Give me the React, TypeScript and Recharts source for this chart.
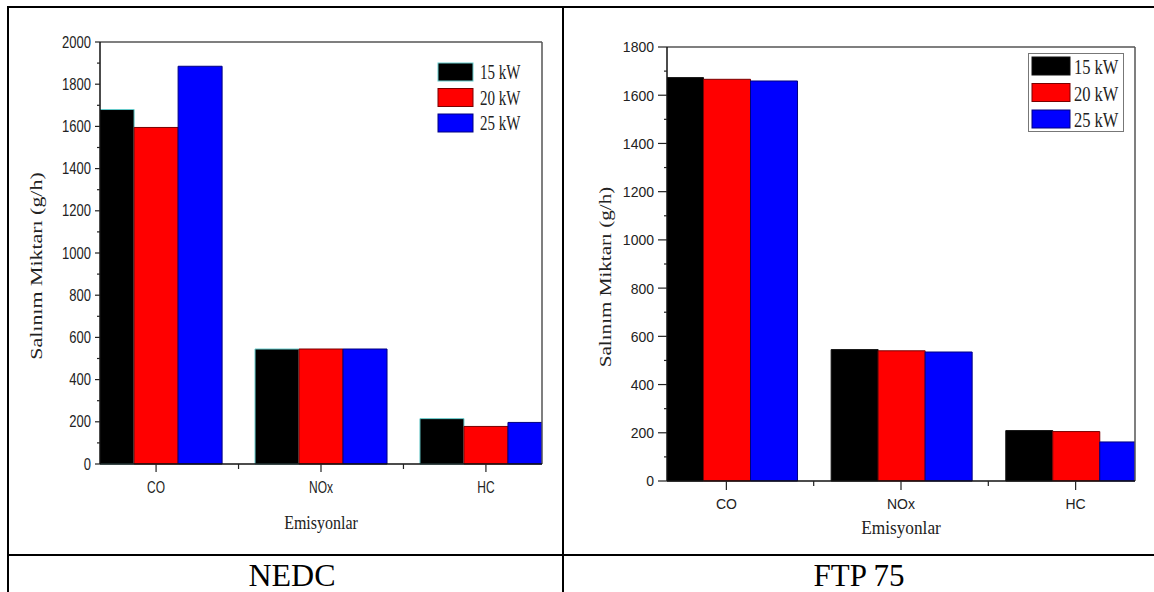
import React from "react";
import { BarChart, Bar, XAxis, YAxis, Legend, ReferenceLine } from "recharts";

const SANS = '"Liberation Sans", Arial, sans-serif';
const SERIF = '"Liberation Serif", "Times New Roman", serif';

// categories on the x axis and where they sit on the numeric axis
const categories = ["CO", "NOx", "HC"];
const categoryPositions = [1, 2, 3];
const xTicks = [1, 1.5, 2, 2.5, 3];
const xDomain: [number, number] = [0.66, 3.34];

const seriesNames = ["15 kW", "20 kW", "25 kW"];

// NEDC (g/h)
const nedc15 = [1680, 545, 215];
const nedc20 = [1595, 545, 178];
const nedc25 = [1885, 545, 197];

// FTP 75 (g/h)
const ftp15 = [1673, 545, 209];
const ftp20 = [1666, 540, 205];
const ftp25 = [1659, 535, 162];

const nedcYTicks = [0, 100, 200, 300, 400, 500, 600, 700, 800, 900, 1000, 1100, 1200, 1300, 1400, 1500, 1600, 1700, 1800, 1900, 2000];
const ftpYTicks = [0, 100, 200, 300, 400, 500, 600, 700, 800, 900, 1000, 1100, 1200, 1300, 1400, 1500, 1600, 1700, 1800];

const yTitle = "Salınım Miktarı (g/h)";
const xTitle = "Emisyonlar";

const buildRows = (a: number[], b: number[], c: number[]) =>
  categoryPositions.map((pos, i) => ({ pos, s15: a[i], s20: b[i], s25: c[i] }));

// the source figure is stretched, so texts get a scale
function SText({ x, y, size, family, sx = 1, sy = 1, rotate = 0, anchor = "middle", fill = "#111", children }: any) {
  return (
    <text
      transform={`translate(${x},${y}) rotate(${rotate}) scale(${sx},${sy})`}
      fontSize={size}
      fontFamily={family}
      textAnchor={anchor}
      fill={fill}
    >
      {children}
    </text>
  );
}

// axis title: recharts hands the label its own x/y, so keep ours under other names
function AxisTitle({ px, py, size, sx = 1, sy = 1, rotate = 0, text }: any) {
  return (
    <SText x={px} y={py} size={size} family={SERIF} sx={sx} sy={sy} rotate={rotate} fill="#222">
      {text}
    </SText>
  );
}

type Look = {
  left: number;
  width: number;
  height: number;
  margin: { top: number; right: number; bottom: number; left: number };
  yMax: number;
  yTicks: number[];
  yTick: { major: number; minor: number; gap: number; size: number; sy: number; shift: number };
  xTick: { major: number; minor: number; base: number; size: number; sy: number };
  yLabel: { x: number; y: number; size: number; sx: number };
  xLabel: { x: number; y: number; size: number; sy: number };
  legend: {
    left: number; top: number; w: number; h: number; box: boolean;
    swX: number; swY: number; row: number; swW: number; swH: number;
    textX: number; base: number; size: number; sy: number;
  };
  strokes: string[];
};

const fills = ["#000000", "#ff0000", "#0000ff"];

function Panel({ look, rows }: { look: Look; rows: any[] }) {
  const yTick = (props: any) => {
    const { x, y, payload } = props;
    const v = payload.value;
    const major = v % 200 === 0;
    return (
      <g>
        <line x1={x} x2={x - (major ? look.yTick.major : look.yTick.minor)} y1={y} y2={y} stroke="#222" strokeWidth={1.2} />
        {major && (
          <SText x={x - look.yTick.gap} y={y + look.yTick.shift} size={look.yTick.size} family={SANS} sy={look.yTick.sy} anchor="end" fill="#222">
            {v}
          </SText>
        )}
      </g>
    );
  };

  const xTick = (props: any) => {
    const { x, y, payload } = props;
    const v = payload.value;
    const idx = categoryPositions.indexOf(v);
    const major = idx >= 0;
    return (
      <g>
        <line x1={x} x2={x} y1={y} y2={y + (major ? look.xTick.major : look.xTick.minor)} stroke="#222" strokeWidth={1.2} />
        {major && (
          <SText x={x} y={y + look.xTick.base} size={look.xTick.size} family={SANS} sy={look.xTick.sy} fill="#222">
            {categories[idx]}
          </SText>
        )}
      </g>
    );
  };

  const lg = look.legend;
  const renderLegend = (props: any) => (
    <svg width={lg.w} height={lg.h} style={{ display: "block", overflow: "visible" }}>
      {lg.box && <rect x={0.5} y={0.5} width={lg.w - 1} height={lg.h - 1} fill="#fff" stroke="#777" />}
      {(props.payload || []).map((p: any, i: number) => (
        <g key={p.value}>
          <rect x={lg.swX} y={lg.swY + i * lg.row} width={lg.swW} height={lg.swH} fill={p.color} stroke={look.strokes[i]} strokeWidth={1} />
          <SText x={lg.textX} y={lg.swY + i * lg.row + lg.base} size={lg.size} family={SERIF} sy={lg.sy} anchor="start" fill="#222">
            {p.value}
          </SText>
        </g>
      ))}
    </svg>
  );

  return (
    <div style={{ position: "absolute", left: look.left, top: 0 }}>
      <BarChart width={look.width} height={look.height} data={rows} margin={look.margin} barGap={0} barCategoryGap="10%">
        <XAxis
          dataKey="pos"
          type="number"
          domain={xDomain}
          allowDataOverflow
          ticks={xTicks}
          interval={0}
          height={30}
          tickSize={0}
          tickMargin={0}
          tickLine={false}
          axisLine={{ stroke: "#111", strokeWidth: 1.5 }}
          tick={xTick}
          label={<AxisTitle px={look.xLabel.x} py={look.xLabel.y} size={look.xLabel.size} sy={look.xLabel.sy} text={xTitle} />}
        />
        <YAxis
          type="number"
          domain={[0, look.yMax]}
          ticks={look.yTicks}
          interval={0}
          width={60}
          tickSize={0}
          tickMargin={0}
          tickLine={false}
          axisLine={{ stroke: "#111", strokeWidth: 1.5 }}
          tick={yTick}
          label={<AxisTitle px={look.yLabel.x} py={look.yLabel.y} size={look.yLabel.size} sx={look.yLabel.sx} rotate={-90} text={yTitle} />}
        />
        <ReferenceLine y={look.yMax} stroke="#555" strokeWidth={1.5} ifOverflow="visible" />
        <ReferenceLine x={xDomain[1]} stroke="#555" strokeWidth={1.5} ifOverflow="visible" />
        <Bar dataKey="s15" name={seriesNames[0]} fill={fills[0]} stroke={look.strokes[0]} strokeWidth={1} isAnimationActive={false} />
        <Bar dataKey="s20" name={seriesNames[1]} fill={fills[1]} stroke={look.strokes[1]} strokeWidth={1} isAnimationActive={false} />
        <Bar dataKey="s25" name={seriesNames[2]} fill={fills[2]} stroke={look.strokes[2]} strokeWidth={1} isAnimationActive={false} />
        <Legend
          layout="vertical"
          align="center"
          verticalAlign="middle"
          wrapperStyle={{ left: lg.left, top: lg.top, width: lg.w, height: lg.h }}
          content={renderLegend}
        />
      </BarChart>
    </div>
  );
}

const nedcLook: Look = {
  left: 0,
  width: 562,
  height: 554,
  margin: { top: 42, right: 20, bottom: 60, left: 40 },
  yMax: 2000,
  yTicks: nedcYTicks,
  yTick: { major: 5, minor: 3, gap: 9, size: 13, sy: 1.2, shift: 5.6 },
  xTick: { major: 8, minor: 5, base: 29, size: 12, sy: 1.35 },
  yLabel: { x: 41.5, y: 266, size: 16, sx: 1.37 },
  xLabel: { x: 321, y: 529, size: 16, sy: 1.19 },
  legend: { left: 438, top: 63, w: 104, h: 72, box: false, swX: 0, swY: 0, row: 25.5, swW: 35, swH: 18, textX: 42, base: 16, size: 15, sy: 1.36 },
  strokes: ["#66cccc", "#7a0000", "#000080"],
};

const ftpLook: Look = {
  left: 562,
  width: 592,
  height: 554,
  margin: { top: 47, right: 19, bottom: 43, left: 45 },
  yMax: 1800,
  yTicks: ftpYTicks,
  yTick: { major: 9, minor: 3, gap: 13, size: 14, sy: 1.07, shift: 5.4 },
  xTick: { major: 9, minor: 5, base: 28, size: 14, sy: 1.1 },
  yLabel: { x: 49, y: 277, size: 16, sx: 1.32 },
  xLabel: { x: 339, y: 534, size: 17.3, sy: 1.07 },
  legend: { left: 466, top: 53, w: 96, h: 79, box: true, swX: 4, swY: 4, row: 26.5, swW: 38, swH: 18, textX: 46, base: 17, size: 16.5, sy: 1.33 },
  strokes: ["#111111", "#7a0000", "#000080"],
};

export default function App() {
  return (
    <div style={{ position: "absolute", left: 0, top: 0, width: 1154, height: 592, overflow: "hidden", background: "#fff" }}>
      <svg width={1154} height={592} style={{ position: "absolute", left: 0, top: 0 }}>
        <line x1={7} x2={1154} y1={7} y2={7} stroke="#000" strokeWidth={2} />
        <line x1={8} x2={8} y1={6} y2={592} stroke="#000" strokeWidth={2} />
        <line x1={563} x2={563} y1={6} y2={592} stroke="#000" strokeWidth={2} />
        <line x1={7} x2={1154} y1={555} y2={555} stroke="#000" strokeWidth={2} />
        <text x={292} y={586} fontSize={32} fontFamily={SERIF} textAnchor="middle" fill="#000">NEDC</text>
        <text x={859} y={586} fontSize={31} fontFamily={SERIF} textAnchor="middle" fill="#000">FTP 75</text>
      </svg>
      <Panel look={nedcLook} rows={buildRows(nedc15, nedc20, nedc25)} />
      <Panel look={ftpLook} rows={buildRows(ftp15, ftp20, ftp25)} />
    </div>
  );
}
